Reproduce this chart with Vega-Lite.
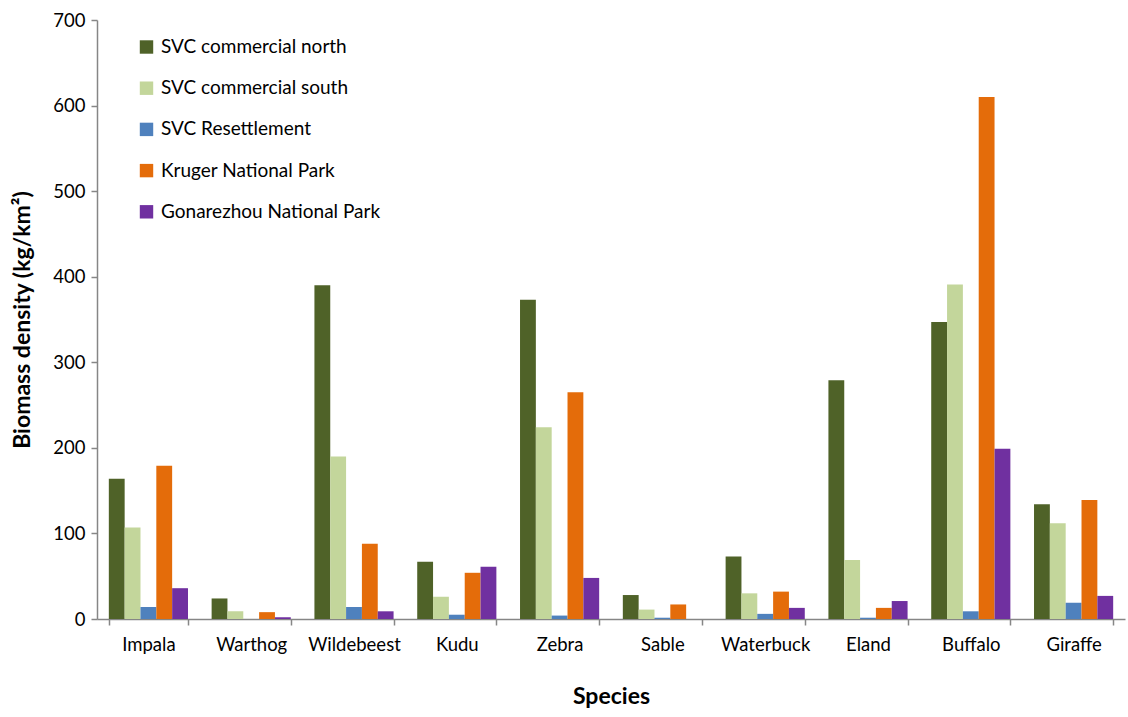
{
  "$schema": "https://vega.github.io/schema/vega-lite/v6.json",
  "width": 1028,
  "height": 599,
  "autosize": "none",
  "padding": {"left": 97, "top": 20, "right": 3, "bottom": 98},
  "background": "white",
  "config": {"view": {"stroke": null}, "font": "Lato"},
  "data": {"values": [
    {"species": "Impala", "site": "SVC commercial north", "value": 164},
    {"species": "Impala", "site": "SVC commercial south", "value": 107},
    {"species": "Impala", "site": "SVC Resettlement", "value": 14},
    {"species": "Impala", "site": "Kruger National Park", "value": 179},
    {"species": "Impala", "site": "Gonarezhou National Park", "value": 36},
    {"species": "Warthog", "site": "SVC commercial north", "value": 24},
    {"species": "Warthog", "site": "SVC commercial south", "value": 9},
    {"species": "Warthog", "site": "SVC Resettlement", "value": 0},
    {"species": "Warthog", "site": "Kruger National Park", "value": 8},
    {"species": "Warthog", "site": "Gonarezhou National Park", "value": 2},
    {"species": "Wildebeest", "site": "SVC commercial north", "value": 390},
    {"species": "Wildebeest", "site": "SVC commercial south", "value": 190},
    {"species": "Wildebeest", "site": "SVC Resettlement", "value": 14},
    {"species": "Wildebeest", "site": "Kruger National Park", "value": 88},
    {"species": "Wildebeest", "site": "Gonarezhou National Park", "value": 9},
    {"species": "Kudu", "site": "SVC commercial north", "value": 67},
    {"species": "Kudu", "site": "SVC commercial south", "value": 26},
    {"species": "Kudu", "site": "SVC Resettlement", "value": 5},
    {"species": "Kudu", "site": "Kruger National Park", "value": 54},
    {"species": "Kudu", "site": "Gonarezhou National Park", "value": 61},
    {"species": "Zebra", "site": "SVC commercial north", "value": 373},
    {"species": "Zebra", "site": "SVC commercial south", "value": 224},
    {"species": "Zebra", "site": "SVC Resettlement", "value": 4},
    {"species": "Zebra", "site": "Kruger National Park", "value": 265},
    {"species": "Zebra", "site": "Gonarezhou National Park", "value": 48},
    {"species": "Sable", "site": "SVC commercial north", "value": 28},
    {"species": "Sable", "site": "SVC commercial south", "value": 11},
    {"species": "Sable", "site": "SVC Resettlement", "value": 1.5},
    {"species": "Sable", "site": "Kruger National Park", "value": 17},
    {"species": "Sable", "site": "Gonarezhou National Park", "value": 0},
    {"species": "Waterbuck", "site": "SVC commercial north", "value": 73},
    {"species": "Waterbuck", "site": "SVC commercial south", "value": 30},
    {"species": "Waterbuck", "site": "SVC Resettlement", "value": 6},
    {"species": "Waterbuck", "site": "Kruger National Park", "value": 32},
    {"species": "Waterbuck", "site": "Gonarezhou National Park", "value": 13},
    {"species": "Eland", "site": "SVC commercial north", "value": 279},
    {"species": "Eland", "site": "SVC commercial south", "value": 69},
    {"species": "Eland", "site": "SVC Resettlement", "value": 1.5},
    {"species": "Eland", "site": "Kruger National Park", "value": 13},
    {"species": "Eland", "site": "Gonarezhou National Park", "value": 21},
    {"species": "Buffalo", "site": "SVC commercial north", "value": 347},
    {"species": "Buffalo", "site": "SVC commercial south", "value": 391},
    {"species": "Buffalo", "site": "SVC Resettlement", "value": 9},
    {"species": "Buffalo", "site": "Kruger National Park", "value": 610},
    {"species": "Buffalo", "site": "Gonarezhou National Park", "value": 199},
    {"species": "Giraffe", "site": "SVC commercial north", "value": 134},
    {"species": "Giraffe", "site": "SVC commercial south", "value": 112},
    {"species": "Giraffe", "site": "SVC Resettlement", "value": 19},
    {"species": "Giraffe", "site": "Kruger National Park", "value": 139},
    {"species": "Giraffe", "site": "Gonarezhou National Park", "value": 27}
  ]},
  "mark": {"type": "bar", "stroke": null},
  "encoding": {
    "x": {
      "field": "species", "type": "nominal", "sort": null,
      "scale": {"paddingInner": 0.23, "paddingOuter": 0.115},
      "axis": {
        "title": "Species", "titleFontSize": 23, "titleFontWeight": "bold", "titleColor": "#000", "titlePadding": 32,
        "labelAngle": 0, "labelFontSize": 18.5, "labelColor": "#000", "labelPadding": 10,
        "tickBand": "extent", "tickSize": 6, "tickColor": "#868686", "domainColor": "#868686", "domainWidth": 1.5, "tickWidth": 1.5
      }
    },
    "xOffset": {"field": "site", "type": "nominal", "sort": ["SVC commercial north", "SVC commercial south", "SVC Resettlement", "Kruger National Park", "Gonarezhou National Park"], "scale": {"paddingInner": 0, "paddingOuter": 0}},
    "y": {
      "field": "value", "type": "quantitative",
      "scale": {"domain": [0, 700], "nice": false},
      "axis": {
        "title": "Biomass density (kg/km²)", "titleFontSize": 23, "titleFontWeight": "bold", "titleColor": "#000", "titlePadding": 18,
        "values": [0, 100, 200, 300, 400, 500, 600, 700], "grid": false,
        "labelFontSize": 18.5, "labelColor": "#000", "labelPadding": 6,
        "tickSize": 6, "tickColor": "#868686", "domainColor": "#868686", "domainWidth": 1.5, "tickWidth": 1.5
      }
    },
    "color": {
      "field": "site", "type": "nominal",
      "sort": ["SVC commercial north", "SVC commercial south", "SVC Resettlement", "Kruger National Park", "Gonarezhou National Park"],
      "scale": {
        "domain": ["SVC commercial north", "SVC commercial south", "SVC Resettlement", "Kruger National Park", "Gonarezhou National Park"],
        "range": ["#4F6228", "#C3D69B", "#4F81BD", "#E46C0A", "#7030A0"]
      },
      "legend": {
        "title": null, "orient": "none", "legendX": 40, "legendY": 17.5,
        "symbolType": "square", "symbolSize": 180, "symbolStrokeWidth": 0,
        "labelFontSize": 19, "labelColor": "#000", "labelOffset": 5, "rowPadding": 21.2, "labelLimit": 400
      }
    }
  }
}
